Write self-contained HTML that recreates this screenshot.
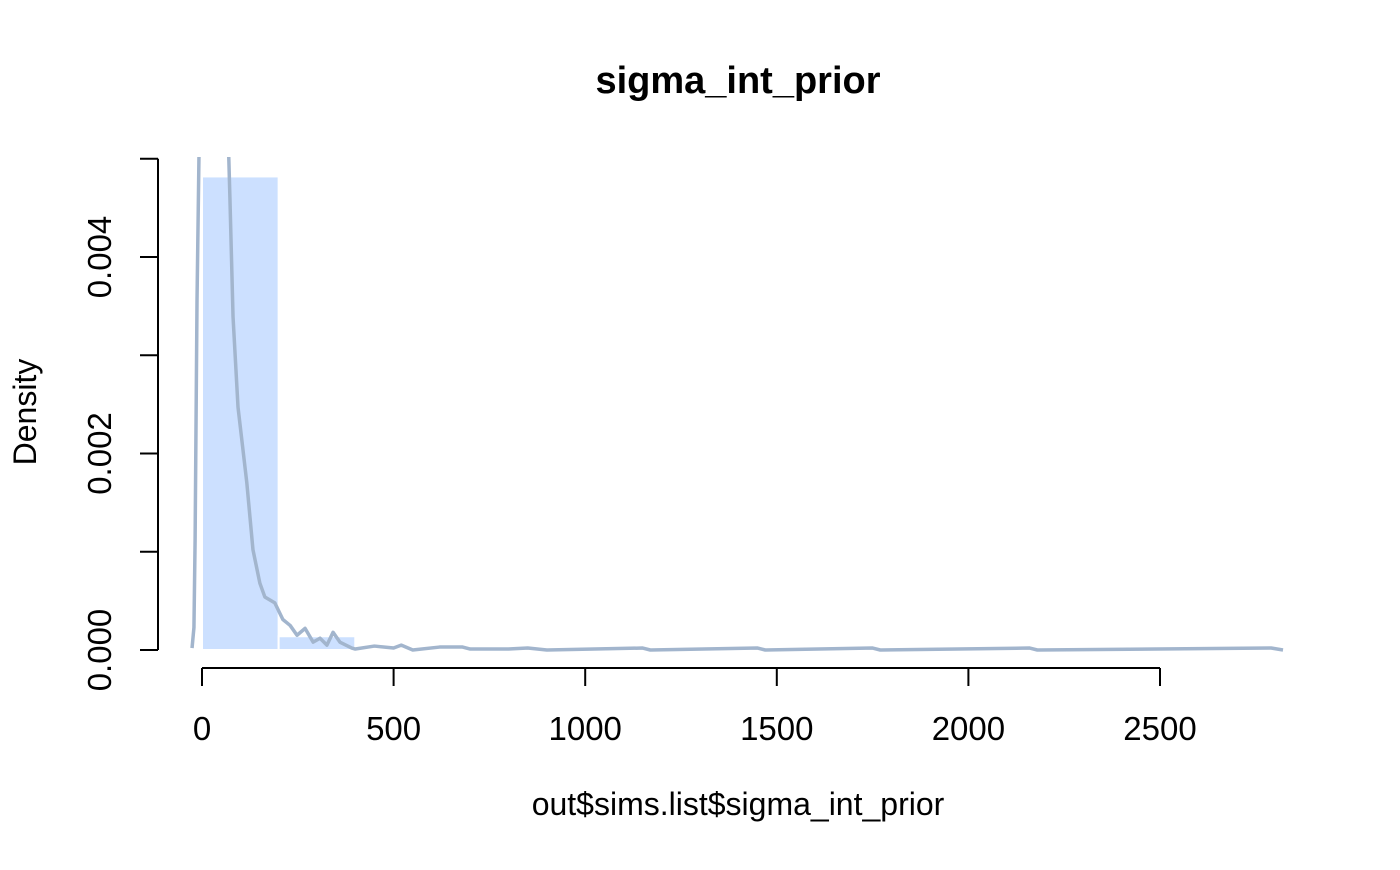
<!DOCTYPE html>
<html><head><meta charset="utf-8"><style>body{margin:0;background:#fff}svg text{font-family:"Liberation Sans",Arial,sans-serif}</style></head>
<body>
<svg id="chart" width="1400" height="865" xmlns="http://www.w3.org/2000/svg">
<defs><clipPath id="clip"><rect x="150" y="157" width="1150" height="500"/></clipPath></defs>
<text x="738" y="93" font-size="38" font-weight="bold" text-anchor="middle">sigma_int_prior</text>
<text x="738" y="815" font-size="32" text-anchor="middle">out$sims.list$sigma_int_prior</text>
<text transform="translate(36,412) rotate(-90)" font-size="32" text-anchor="middle">Density</text>
<g id="bars" clip-path="url(#clip)"></g>
<g id="line" clip-path="url(#clip)"></g>
<g id="axes"></g>
</svg>
<script>
const binEdges=[0,200,400];
const binDensity=[0.00482,0.00014];
const densX=[-26,-21,-18,-13,-8,10,30,55,70,73,81,94,117,133,151,164,190,211,230,248,269,290,308,326,342,360,391,400,450,500,520,550,620,680,700,800,850,900,1150,1170,1450,1470,1750,1770,2160,2180,2790,2821];
const densY=[0.00002,0.00023,0.00112,0.00356,0.005,0.0072,0.0075,0.0065,0.005,0.00458,0.00339,0.00247,0.0017,0.00102,0.00068,0.00054,0.00048,0.00031,0.00025,0.00015,0.00022,0.00008,0.00012,0.00005,0.00018,0.00008,0.00002,0.00001,0.00004,0.00002,0.00005,0,0.00003,0.00003,0.00001,0.00001,0.00002,0,0.00002,0,0.00002,0,0.00002,0,0.00002,0,0.00002,0];
const xTicks=[0,500,1000,1500,2000,2500];
const yTicks=[0,0.001,0.002,0.003,0.004,0.005];
const yLabels=["0.000","0.002","0.004"];
const yLabelVals=[0,0.002,0.004];
const X=v=>202+v*(958/2500);
const Y=v=>650-v*98250;
const NS="http://www.w3.org/2000/svg";
function mk(tag,attrs,parent){const e=document.createElementNS(NS,tag);for(const k in attrs)e.setAttribute(k,attrs[k]);document.getElementById(parent).appendChild(e);return e;}
for(let i=0;i<binDensity.length;i++){
 const r=mk('rect',{x:X(binEdges[i]),y:Y(binDensity[i]),width:X(binEdges[i+1])-X(binEdges[i]),height:Y(0)-Y(binDensity[i]),fill:'#cce0ff',stroke:'#fff','stroke-width':2},'bars');
 
 
}
const p=mk('polyline',{points:densX.map((x,i)=>X(x)+','+Y(densY[i])).join(' '),fill:'none',stroke:'#a2b5cd','stroke-width':3.5,'stroke-linejoin':'round'},'line');


const ax=mk('line',{x1:X(xTicks[0]),x2:X(xTicks[xTicks.length-1]),y1:668,y2:668,stroke:'#000','stroke-width':2},'axes');


xTicks.forEach(t=>{
 mk('line',{x1:X(t),x2:X(t),y1:668,y2:686,stroke:'#000','stroke-width':2},'axes');
 const tx=mk('text',{x:X(t),y:740,'font-size':33,'text-anchor':'middle'},'axes');
 tx.textContent=t;
 
 
});
const ay=mk('line',{x1:158,x2:158,y1:Y(yTicks[yTicks.length-1]),y2:Y(0),stroke:'#000','stroke-width':2},'axes');


yTicks.forEach(t=>mk('line',{x1:140,x2:158,y1:Y(t),y2:Y(t),stroke:'#000','stroke-width':2},'axes'));
yLabels.forEach((l,i)=>{
 const y=Y(yLabelVals[i]);
 const tx=mk('text',{transform:`translate(111,${y}) rotate(-90)`,'font-size':33,'text-anchor':'middle'},'axes');
 tx.textContent=l;
 
 
});
</script>
</body></html>
